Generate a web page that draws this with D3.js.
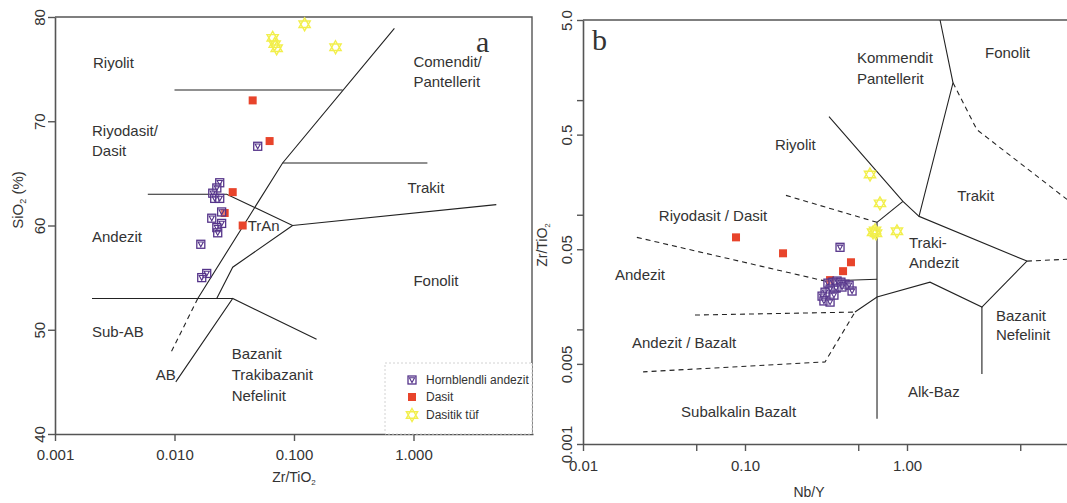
<!DOCTYPE html>
<html>
<head>
<meta charset="utf-8">
<script src="https://cdn.jsdelivr.net/npm/d3@7"></script>
<style>
  body { margin: 0; background: #fff; }
  svg text { font-family: "Liberation Sans", Arial, sans-serif; fill: #333; }
</style>
</head>
<body>
<svg id="chart" width="1067" height="503"></svg>
<script>
// ---- data: panel a (SiO2 vs Zr/TiO2) ----
var hornA = [[0.0239,64.1],[0.0226,63.6],[0.0209,63.1],[0.0217,62.6],[0.0239,62.6],
  [0.0248,61.3],[0.0205,60.7],[0.0248,60.2],[0.0226,59.8],[0.0230,59.3],
  [0.0166,58.2],[0.0186,55.4],[0.0169,55.0],[0.0497,67.6]];
var dasitA = [[0.0307,63.2],[0.0263,61.2],[0.0372,60.0],[0.0451,72.0],[0.0625,68.1]];
var tufA = [[0.1227,79.3],[0.0663,78.0],[0.0689,77.4],[0.0716,77.0],[0.2226,77.1]];

var xTicksA = [0.001, 0.01, 0.1, 1];
var yTicksA = [40, 50, 60, 70, 80];

// field boundaries, data units
var solidA = [
  [[0.01,73],[0.255,73]],
  [[0.692,78.9],[0.0803,66],[0.01566,53]],
  [[0.0803,66],[1.307,66]],
  [[0.00598,63],[0.02735,63],[0.0973,60],[4.93,62]],
  [[0.0973,60],[0.0307,56],[0.02256,53]],
  [[0.00204,53],[0.0307,53]],
  [[0.01025,45],[0.0307,53],[0.1545,49.1]]
];
var dashedA = [ [[0.01566,53],[0.00914,47.6]] ];

var labelsA = [
  ["Riyolit",0.00208,75.6],["Riyodasit/",0.00204,69.1],["Dasit",0.00204,67.2],
  ["Andezit",0.00204,58.9],["Sub-AB",0.00204,49.8],["AB",0.00698,45.7],
  ["Bazanit",0.0301,47.7],["Trakibazanit",0.0301,45.7],["Nefelinit",0.0301,43.7],
  ["TrAn",0.0410,60.0],["Comendit/",0.998,75.7],["Pantellerit",0.998,73.75],
  ["Trakit",0.889,63.6],["Fonolit",0.998,54.7]
];

// ---- data: panel b (Zr/TiO2 vs Nb/Y) ----
var hornB = [[0.386,0.0520],[0.325,0.0253],[0.349,0.0258],[0.370,0.0264],[0.391,0.0258],
  [0.414,0.0248],[0.439,0.0243],[0.458,0.0216],[0.365,0.0229],[0.397,0.0234],
  [0.335,0.0225],[0.312,0.0211],[0.299,0.0195],[0.307,0.0177],[0.335,0.0173],[0.354,0.0199]];
var dasitB = [[0.0880,0.0635],[0.1717,0.0461],[0.451,0.0385],[0.403,0.0322],[0.335,0.0269]];
var tufB = [[0.591,0.2244],[0.681,0.1256],[0.635,0.0731],[0.644,0.0689],[0.617,0.0703],[0.867,0.0717]];

var xTicksB = [0.01, 0.1, 1];
var xMinorB = [0.05, 0.5, 5];
var yTicksB = [5, 0.5, 0.05, 0.005, 0.001];
var yTickTextB = ["5.0", "0.5", "0.05", "0.005", "0.001"];
var yMinorB = [1, 0.1, 0.01];

var solidB = [
  [[1.60,5],[1.923,1.416],[1.186,0.0968],[5.50,0.0394]],
  [[0.330,0.718],[0.944,0.1307],[1.186,0.0968]],
  [[0.944,0.1307],[0.653,0.0859]],
  [[0.653,0.0859],[0.653,0.00166]],
  [[0.312,0.0264],[0.653,0.0274]],
  [[0.4775,0.01416],[0.653,0.01913],[1.387,0.0258],[2.90,0.01567],[5.50,0.0394]],
  [[2.90,0.01567],[2.90,0.00409]]
];
var dashedB = [
  [[1.923,1.416],[2.70,0.552],[9.72,0.136]],
  [[5.50,0.0394],[9.72,0.0409]],
  [[0.179,0.1475],[0.653,0.0859]],
  [[0.0215,0.0635],[0.312,0.0264]],
  [[0.0491,0.01334],[0.4775,0.01416],[0.312,0.0052],[0.0235,0.00426]]
];

var labelsB = [
  ["Kommendit",0.491,2.34],["Pantellerit",0.491,1.535],["Fonolit",3.03,2.58],
  ["Riyolit",0.153,0.409],["Trakit",2.04,0.1475],["Riyodasit / Dasit",0.0294,0.0988],
  ["Traki-",1.028,0.0575],["Andezit",1.028,0.0385],["Andezit",0.01576,0.0297],
  ["Andezit / Bazalt",0.02006,0.00762],["Subalkalin Bazalt",0.0403,0.00191],
  ["Alk-Baz",1.014,0.00285],["Bazanit",3.54,0.01307],["Nefelinit",3.54,0.00894]
];

var legendItems = ["Hornblendli andezit", "Dasit", "Dasitik tüf"];

// ---- drawing ----
var app = {};
app.purple = "#55348a";
app.red = "#e8442b";
app.yellow = "#f2ef4c";
app.axisCol = "#555";

var svg = d3.select("#chart");

// marker paths
app.hexagram = function(r){
  var p = function(a){ return [r*Math.cos(a*Math.PI/180), r*Math.sin(a*Math.PI/180)]; };
  var t1 = [p(-90),p(30),p(150)], t2 = [p(90),p(210),p(330)];
  var s = function(t){ return "M"+t.map(function(q){return q[0].toFixed(2)+","+q[1].toFixed(2);}).join("L")+"Z"; };
  return s(t1)+s(t2);
};

app.drawMarkers = function(g, x, y){
  return {
    horn: function(data){
      var m = g.selectAll(null).data(data).enter().append("g")
        .attr("transform", function(d){ return "translate("+x(d[0])+","+y(d[1])+")"; });
      m.append("rect").attr("x",-4).attr("y",-4).attr("width",8).attr("height",8)
        .attr("fill","#fff").attr("fill-opacity",0.3).attr("stroke",app.purple).attr("stroke-width",1.3);
      m.append("path").attr("d","M-2.6,-2.2L2.6,-2.2L0,2.6Z")
        .attr("fill","none").attr("stroke",app.purple).attr("stroke-width",1.1);
    },
    dasit: function(data){
      g.selectAll(null).data(data).enter().append("rect")
        .attr("x", function(d){ return x(d[0])-4; })
        .attr("y", function(d){ return y(d[1])-4; })
        .attr("width",8).attr("height",8).attr("fill",app.red);
    },
    tuf: function(data){
      g.selectAll(null).data(data).enter().append("path")
        .attr("transform", function(d){ return "translate("+x(d[0])+","+y(d[1])+")"; })
        .attr("d", app.hexagram(6.5))
        .attr("fill","none").attr("stroke",app.yellow).attr("stroke-width",1.4);
    }
  };
};

app.drawLines = function(g, x, y, solid, dashed){
  var line = d3.line().x(function(d){return x(d[0]);}).y(function(d){return y(d[1]);});
  g.selectAll(null).data(solid).enter().append("path")
    .attr("d", line).attr("fill","none").attr("stroke","#222").attr("stroke-width",1.1);
  g.selectAll(null).data(dashed).enter().append("path")
    .attr("d", line).attr("fill","none").attr("stroke","#222").attr("stroke-width",1.1)
    .attr("stroke-dasharray","5,4");
};

app.drawLabels = function(g, x, y, labels){
  g.selectAll(null).data(labels).enter().append("text")
    .attr("x", function(d){ return x(d[1]); })
    .attr("y", function(d){ return y(d[2]); })
    .attr("dy","0.35em")
    .style("font-size","15px")
    .text(function(d){ return d[0]; });
};

app.styleAxis = function(g){
  g.selectAll(".domain").attr("stroke",app.axisCol).attr("stroke-width",1.6);
  g.selectAll(".tick line").attr("stroke",app.axisCol).attr("stroke-width",1.4);
  g.selectAll("text").style("font-size","15px").attr("fill","#333")
    .style("font-family",'"Liberation Sans", Arial, sans-serif');
};

// ===== panel a =====
var xA = d3.scaleLog().domain([0.001, 10]).range([55, 533]);
var yA = d3.scaleLinear().domain([40, 80]).range([434, 17]);
var gA = svg.append("g");

// frame top/right
gA.append("path").attr("d","M"+xA(0.001)+","+yA(80)+"H532V"+yA(40))
  .attr("fill","none").attr("stroke",app.axisCol).attr("stroke-width",1.4);

var axA_x = gA.append("g").attr("transform","translate(0,"+yA(40)+")")
  .call(d3.axisBottom(xA).tickValues(xTicksA).tickFormat(d3.format(".3f")).tickSize(7).tickSizeOuter(0));
axA_x.selectAll("text").attr("y",15);
app.styleAxis(axA_x);

var axA_y = gA.append("g").attr("transform","translate("+xA(0.001)+",0)")
  .call(d3.axisLeft(yA).tickValues(yTicksA).tickFormat(d3.format("d")).tickSize(7).tickSizeOuter(0));
axA_y.selectAll("text").attr("transform","rotate(-90)").attr("x",0).attr("y",-10)
  .attr("dy",0).attr("text-anchor","middle");
app.styleAxis(axA_y);

gA.append("text").attr("x",294).attr("y",482).attr("text-anchor","middle")
  .style("font-size","14px").html('Zr/TiO<tspan font-size="8px" dy="3">2</tspan>');
gA.append("text").attr("transform","translate(23,200) rotate(-90)").attr("text-anchor","middle")
  .style("font-size","15px").html('SiO<tspan font-size="9px" dy="3">2</tspan><tspan dy="-3"> (%)</tspan>');

app.drawLines(gA, xA, yA, solidA, dashedA);
app.drawLabels(gA, xA, yA, labelsA);
var mA = app.drawMarkers(gA, xA, yA);
mA.tuf(tufA);
mA.dasit(dasitA);
mA.horn(hornA);

gA.append("text").attr("x",476).attr("y",52)
  .style("font-family",'"Liberation Serif", "Times New Roman", serif').style("font-size","30px")
  .attr("fill","#111").text("a");

// legend
var leg = gA.append("g");
leg.append("rect").attr("x",385).attr("y",363).attr("width",147).attr("height",71)
  .attr("fill","#fff").attr("stroke","#d2d2d2").attr("stroke-dasharray","2,2");
var legY = [380, 397, 415];
var lm = app.drawMarkers(leg, function(d){return d;}, function(d){return d;});
lm.horn([[412, legY[0]]]);
lm.dasit([[412, legY[1]]]);
lm.tuf([[412, legY[2]]]);
leg.selectAll(null).data(legendItems).enter().append("text")
  .attr("x",426).attr("y",function(d,i){ return legY[i]; }).attr("dy","0.35em")
  .style("font-size","12px").text(function(d){ return d; });

// ===== panel b =====
var xB = d3.scaleLog().domain([0.01, 10]).range([583, 1069]);
var yB = d3.scaleLog().domain([0.001, 5]).range([444, 20]);
var gB = svg.append("g");

gB.append("path").attr("d","M"+xB(0.01)+","+yB(5)+"H1067")
  .attr("fill","none").attr("stroke",app.axisCol).attr("stroke-width",1.4);

var axB_x = gB.append("g").attr("transform","translate(0,"+yB(0.001)+")")
  .call(d3.axisBottom(xB).tickValues(xTicksB.concat(xMinorB))
    .tickFormat(function(d){ return xTicksB.indexOf(d) >= 0 ? d3.format(".2f")(d) : ""; })
    .tickSize(7).tickSizeOuter(0));
axB_x.selectAll("text").attr("y",16);
app.styleAxis(axB_x);

var axB_y = gB.append("g").attr("transform","translate("+xB(0.01)+",0)")
  .call(d3.axisLeft(yB).tickValues(yTicksB.concat(yMinorB))
    .tickFormat(function(d){ var i = yTicksB.indexOf(d); return i >= 0 ? yTickTextB[i] : ""; })
    .tickSize(6).tickSizeOuter(0));
axB_y.selectAll("text").attr("transform","rotate(-90)").attr("x",0).attr("y",-11)
  .attr("dy",0).attr("text-anchor","middle");
app.styleAxis(axB_y);

gB.append("text").attr("x",809).attr("y",497).attr("text-anchor","middle")
  .style("font-size","14px").text("Nb/Y");
gB.append("text").attr("transform","translate(547,245) rotate(-90)").attr("text-anchor","middle")
  .style("font-size","14px").html('Zr/TiO<tspan font-size="8px" dy="3">2</tspan>');

app.drawLines(gB, xB, yB, solidB, dashedB);
app.drawLabels(gB, xB, yB, labelsB);
var mB = app.drawMarkers(gB, xB, yB);
mB.tuf(tufB);
mB.dasit(dasitB);
mB.horn(hornB);

gB.append("text").attr("x",592).attr("y",50)
  .style("font-family",'"Liberation Serif", "Times New Roman", serif').style("font-size","30px")
  .attr("fill","#111").text("b");
</script>
</body>
</html>
